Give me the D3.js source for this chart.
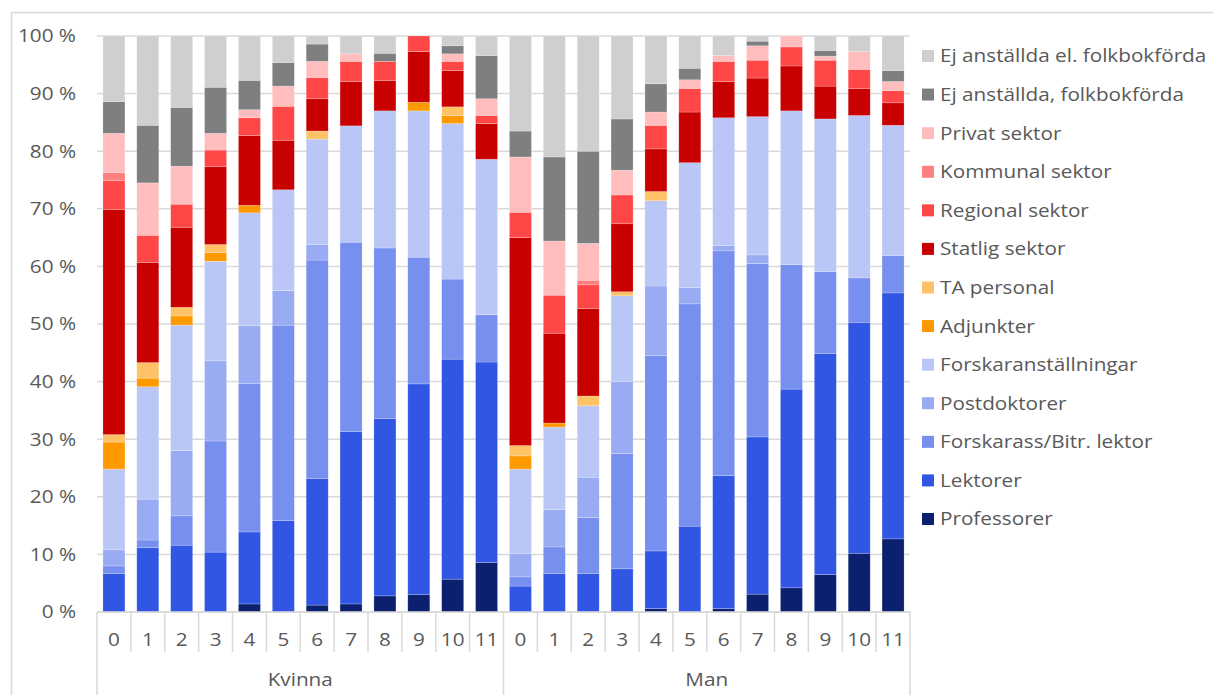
<!DOCTYPE html>
<html>
<head>
<meta charset="utf-8">
<script src="https://cdn.jsdelivr.net/npm/d3@7"></script>
<style>
  body { margin: 0; background: #fff; }
  text { font-family: "Open Sans", "Noto Sans", sans-serif; fill: #595959; font-size: 18.5px; }
</style>
</head>
<body>
<div id="chart"></div>
<script>
// categories: years 0..11 for each gender
var years = ["0","1","2","3","4","5","6","7","8","9","10","11"];
var groups = ["Kvinna", "Man"];

// series, bottom to top of the stack
var seriesNames = [
    "Professorer", "Lektorer", "Forskarass/Bitr. lektor", "Postdoktorer",
    "Forskaranställningar", "Adjunkter", "TA personal", "Statlig sektor",
    "Regional sektor", "Kommunal sektor", "Privat sektor",
    "Ej anställda, folkbokförda", "Ej anställda el. folkbokförda"
];
var seriesColors = [
    "#0b2170", "#3056e3", "#778fee", "#99abf2",
    "#b9c6f6", "#ff9900", "#ffc266", "#c80000",
    "#ff4747", "#ff8080", "#ffbdbd",
    "#7f7f7f", "#d0cece"
];

// values in %, Kvinna 0..11 then Man 0..11
var professorer = [0,0,0,0,1.4,0,1.2,1.4,2.8,3.0,5.7,8.6,  0,0,0,0,0.6,0,0.6,3.1,4.2,6.5,10.2,12.7];
var lektorer    = [6.7,11.2,11.6,10.4,12.5,15.9,22.0,29.9,30.8,36.6,38.2,34.8,  4.5,6.7,6.7,7.5,10.0,14.9,23.1,27.3,34.5,38.4,40.1,42.7];
var forskarass  = [1.3,1.3,5.1,19.3,25.8,33.9,37.9,32.9,29.6,22.0,13.9,8.2,  1.6,4.6,9.7,20.0,33.9,38.6,39.0,30.1,21.6,14.2,7.7,6.5];
var postdok     = [2.8,7.1,11.3,13.9,10.0,6.0,2.7,0,0,0,0,0,  4.0,6.5,7.0,12.5,12.1,2.8,0.9,1.5,0,0,0,0];
var forskaranst = [14.0,19.5,21.8,17.3,19.6,17.5,18.3,20.2,23.8,25.4,27.0,27.0,  14.7,14.3,12.4,14.9,14.8,21.7,22.2,24.0,26.7,26.5,28.2,22.6];
var adjunkter   = [4.7,1.5,1.6,1.5,1.3,0,0,0,0,1.5,1.4,0,  2.3,0.7,0,0,0,0,0,0,0,0,0,0];
var taPersonal  = [1.3,2.7,1.5,1.4,0,0,1.4,0,0,0,1.5,0,  1.8,0,1.7,0.7,1.6,0,0,0,0,0,0,0];
var statlig     = [39.1,17.4,13.9,13.5,12.1,8.6,5.6,7.7,5.3,8.8,6.3,6.2,  36.1,15.6,15.2,11.8,7.4,8.8,6.3,6.7,7.8,5.7,4.7,3.9];
var regional    = [5.0,4.7,4.0,2.9,3.1,5.9,3.7,3.5,3.3,2.7,1.6,1.4,  4.4,6.6,4.1,5.0,4.1,4.1,3.5,3.1,3.3,4.5,3.3,2.1];
var kommunal    = [1.4,0,0,0,0,0,0,0,0,0,0,0,  0,0,0.8,0,0,0,0,0,0,0,0,0];
var privat      = [6.8,9.1,6.6,2.9,1.4,3.5,2.8,1.3,0,0,1.3,2.9,  9.6,9.4,6.4,4.3,2.3,1.5,1.0,2.5,1.9,0.7,3.1,1.6];
var ejFolk      = [5.5,10.0,10.2,8.0,5.1,4.1,3.0,0,1.4,0,1.4,7.5,  4.5,14.6,16.0,8.9,4.9,2.0,0,0.8,0,1.0,0,1.9];
var ejElFolk    = [11.4,15.5,12.4,8.9,7.7,4.6,1.4,3.1,3.0,0,1.7,3.4,  16.5,21.0,20.0,14.4,8.3,5.6,3.4,0.9,0,2.5,2.7,6.0];

var seriesValues = [professorer, lektorer, forskarass, postdok, forskaranst, adjunkter,
    taPersonal, statlig, regional, kommunal, privat, ejFolk, ejElFolk];

var yTicks = [0,0.1,0.2,0.3,0.4,0.5,0.6,0.7,0.8,0.9,1];

// build rows for d3.stack
var rows = [];
groups.forEach(function(g, gi) {
    years.forEach(function(yr, yi) {
        var row = { key: g + "-" + yr, group: g, year: yr };
        seriesNames.forEach(function(s, si) {
            row[s] = seriesValues[si][gi * years.length + yi];
        });
        rows.push(row);
    });
});

var width = 1213, height = 695;
var plot = { left: 97, right: 910, top: 36, bottom: 612 };
var stretch = 1.12;   // text in the original is a bit wide

// place a text at (x, y), stretched horizontally
function placeText(sel, fx, fy) {
    sel.attr("transform", function(d, i) {
        return "translate(" + fx(d, i) + "," + fy(d, i) + ") scale(" + stretch + ",1)";
    })
    .attr("dy", "0.35em");
}

var svg = d3.select("#chart").append("svg")
    .attr("width", width)
    .attr("height", height);

// chart border
svg.append("rect")
    .attr("x", 11.5).attr("y", 12.5)
    .attr("width", width).attr("height", height)
    .attr("fill", "none")
    .attr("stroke", "#d9d9d9")
    .attr("stroke-width", 1.5);

var x = d3.scaleBand()
    .domain(rows.map(function(d) { return d.key; }))
    .range([plot.left, plot.right])
    .paddingInner(0.35)
    .paddingOuter(0.175);

var y = d3.scaleLinear()
    .domain([0, 1])
    .range([plot.bottom, plot.top]);

var color = d3.scaleOrdinal().domain(seriesNames).range(seriesColors);

// gridlines
svg.append("g")
    .selectAll("line")
    .data(yTicks)
    .enter().append("line")
    .attr("x1", plot.left)
    .attr("x2", plot.right)
    .attr("y1", function(d) { return y(d); })
    .attr("y2", function(d) { return y(d); })
    .attr("stroke", "#d9d9d9")
    .attr("stroke-width", 1.5);

// y labels
svg.append("g")
    .selectAll("text")
    .data(yTicks)
    .enter().append("text")
    .attr("text-anchor", "end")
    .call(placeText, function() { return 76; }, function(d) { return y(d); })
    .text(function(d) { return Math.round(d * 100) + " %"; });

// stacked bars
var stack = d3.stack()
    .keys(seriesNames)
    .offset(d3.stackOffsetExpand);

var layers = stack(rows);

svg.append("g")
    .selectAll("g")
    .data(layers)
    .enter().append("g")
    .attr("fill", function(d) { return color(d.key); })
    .selectAll("rect")
    .data(function(d) { return d; })
    .enter().append("rect")
    .attr("x", function(d) { return x(d.data.key); })
    .attr("width", x.bandwidth())
    .attr("y", function(d) { return y(d[1]); })
    .attr("height", function(d) { return Math.max(0, y(d[0]) - y(d[1])); })
    .attr("stroke", "#ffffff")
    .attr("stroke-opacity", 0.35)
    .attr("stroke-width", 0.6);

// x axis: baseline, separators and labels
var step = x.step();
var axis = svg.append("g");

axis.append("line")
    .attr("x1", plot.left).attr("x2", plot.right)
    .attr("y1", plot.bottom).attr("y2", plot.bottom)
    .attr("stroke", "#d9d9d9").attr("stroke-width", 1.5);

var bounds = d3.range(rows.length + 1);
axis.selectAll(".sep")
    .data(bounds)
    .enter().append("line")
    .attr("class", "sep")
    .attr("x1", function(i) { return plot.left + i * step; })
    .attr("x2", function(i) { return plot.left + i * step; })
    .attr("y1", plot.bottom)
    .attr("y2", function(i) { return (i % years.length === 0) ? height : 652; })
    .attr("stroke", "#d9d9d9")
    .attr("stroke-width", 1.5);

axis.selectAll(".yr")
    .data(rows)
    .enter().append("text")
    .attr("class", "yr")
    .attr("text-anchor", "middle")
    .call(placeText, function(d) { return x(d.key) + x.bandwidth() / 2; }, function() { return 640; })
    .text(function(d) { return d.year; });

axis.selectAll(".grp")
    .data(groups)
    .enter().append("text")
    .attr("class", "grp")
    .attr("text-anchor", "middle")
    .call(placeText, function(d, i) { return plot.left + (i + 0.5) * years.length * step; }, function() { return 680; })
    .text(function(d) { return d; });

// legend, top item = top of stack
var legendItems = seriesNames.slice().reverse();
var ly = d3.scalePoint()
    .domain(legendItems)
    .range([56, 519]);

var legend = svg.append("g").attr("class", "legend");

legend.selectAll("rect")
    .data(legendItems)
    .enter().append("rect")
    .attr("x", 922)
    .attr("y", function(d) { return ly(d) - 6; })
    .attr("width", 12)
    .attr("height", 12)
    .attr("fill", function(d) { return color(d); });

legend.selectAll("text")
    .data(legendItems)
    .enter().append("text")
    .call(placeText, function() { return 940; }, function(d) { return ly(d); })
    .text(function(d) { return d; });
</script>
</body>
</html>
